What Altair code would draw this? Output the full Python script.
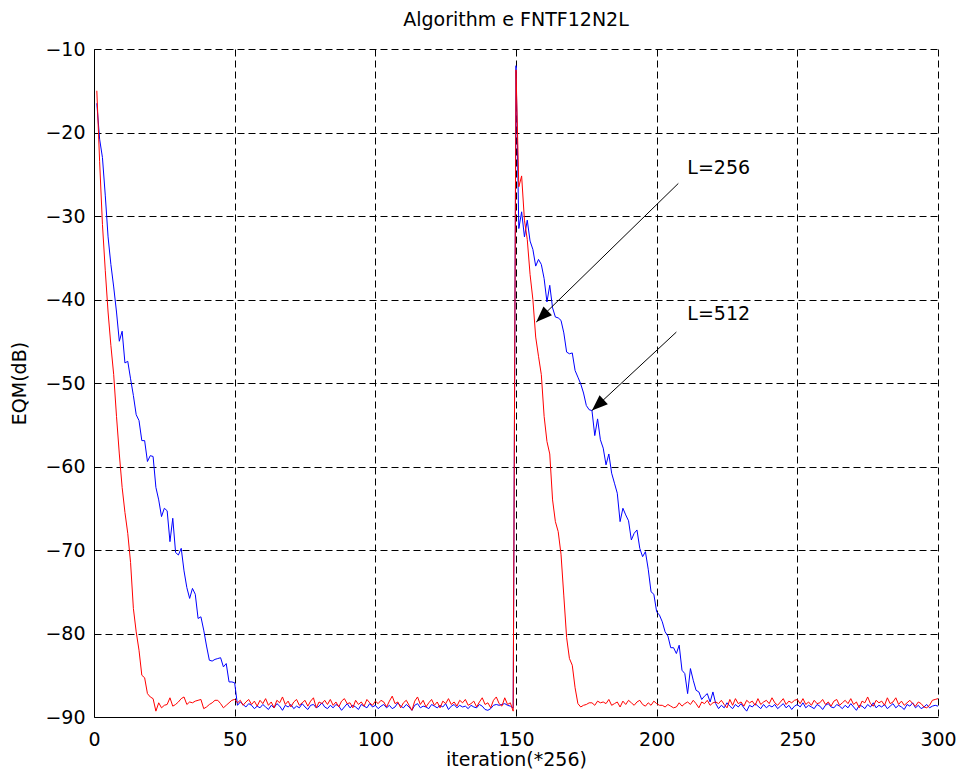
import altair as alt
import pandas as pd

# ---------------- data ----------------
iterations = list(range(1, 301))

# red curve : L=256
red_descent_1 = [-15.0, -23.5, -31.0, -36.5, -41.5, -45.5, -49.0, -54.0, -58.5, -62.5,
                 -65.5, -68.0, -71.5, -77.0, -79.8, -82.0, -85.0, -85.3, -87.2, -87.6,
                 -87.8, -89.3]
red_floor_1 = [-88.3, -88.9, -88.6, -88.5, -87.7, -88.7, -88.5, -88.2, -87.8, -87.6,
               -88.5, -88.2, -88.3, -88.1, -88.0, -87.9, -89.0, -88.8, -88.5, -88.3,
               -88.0, -88.0, -88.4, -88.9, -88.6, -88.3, -88.0, -87.9, -88.3, -88.0,
               -88.6, -88.2, -87.9, -88.5, -88.1, -88.7, -88.0, -88.4, -87.8, -88.6,
               -88.2, -88.9, -88.0, -88.3, -87.6, -88.5, -88.1, -88.8, -88.2, -87.9,
               -88.6, -88.3, -88.0, -88.7, -88.1, -87.7, -88.9, -88.2, -88.4, -88.0,
               -88.5, -87.9, -88.6, -88.2, -88.8, -88.1, -87.8, -88.4, -88.3, -88.9,
               -88.0, -88.5, -88.2, -88.7, -87.9, -88.3, -88.6, -88.1, -88.4, -88.0,
               -88.2, -88.8, -88.1, -87.5, -88.4, -88.2, -88.9, -88.3, -88.0, -88.6,
               -89.2, -88.1, -87.6, -88.5, -88.0, -88.8, -88.3, -87.9, -88.6, -88.2,
               -88.9, -88.1, -88.4, -87.8, -88.5, -88.2, -88.7, -88.0, -88.3, -87.9,
               -88.6, -88.4, -88.1, -88.8, -88.2, -87.7, -88.5, -88.3, -88.9, -88.0,
               -87.6, -88.4, -88.7, -87.7, -88.5, -88.3]
red_spike = [-89.3, -12.5]
red_descent_2 = [-26.5, -25.2, -30.5, -32.8, -37.0, -40.0, -44.5, -46.8, -49.0, -54.0,
                 -57.0, -58.5, -64.0, -66.6, -67.8, -70.5, -75.5, -80.5, -83.0, -83.8,
                 -86.5, -88.4, -88.8]
red_floor_2 = [-88.6, -88.5, -88.3, -88.3, -88.6, -88.1, -88.3, -88.2, -88.4, -87.9,
               -88.6, -88.4, -88.2, -88.8, -88.1, -88.5, -88.0, -88.3, -88.6, -88.2,
               -88.0, -88.5, -88.7, -88.3, -88.6, -88.1, -88.4, -88.6, -88.6, -88.8,
               -88.5, -88.7, -88.9, -88.8, -88.3, -88.7, -88.4, -88.2, -88.5, -88.0,
               -88.4, -88.9, -88.2, -88.4, -88.0, -88.6, -88.3, -88.2, -88.4, -88.0,
               -88.5, -88.9, -87.9, -88.6, -87.8, -88.4, -88.2, -88.7, -88.0, -88.3,
               -88.1, -88.6, -87.8, -88.5, -88.2, -88.0, -88.4, -87.7, -88.3, -88.6,
               -88.2, -87.8, -88.5, -88.1, -88.3, -88.0, -87.9, -88.4, -87.8, -88.5,
               -88.2, -88.6, -88.0, -88.4, -88.3, -87.9, -88.5, -88.2, -88.7, -88.1,
               -87.9, -88.6, -88.3, -88.0, -88.4, -87.8, -88.5, -88.2, -88.9, -88.1,
               -88.3, -87.6, -88.4, -88.7, -88.0, -88.3, -88.1, -88.6, -87.7, -88.4,
               -88.2, -87.7, -88.5, -88.1, -88.6, -88.3, -88.0, -88.4, -88.7, -88.2,
               -88.4, -88.8, -88.9, -88.6, -88.0, -87.9, -87.8]

# blue curve : L=512
blue_descent_1 = [-16.5, -20.8, -23.0, -27.5, -32.5, -35.8, -38.5, -41.5, -45.0, -43.8,
                  -47.6, -47.4, -49.5, -51.5, -53.8, -54.5, -56.9, -56.9, -59.4, -58.7,
                  -58.8, -62.5, -64.0, -66.0, -65.0, -65.3, -69.0, -66.2, -70.3, -70.6,
                  -69.8, -72.5, -74.5, -75.8, -74.6, -75.3, -78.2, -78.0, -79.6, -81.5,
                  -83.2, -83.3, -83.1, -83.0, -82.9, -84.0, -83.6, -85.8, -85.8, -85.9,
                  -88.6]
blue_floor_1 = [-88.2, -88.5, -88.8, -88.4, -88.6, -89.0, -88.7, -88.9, -88.5, -88.8,
                -89.1, -88.6, -88.9, -88.4, -88.7, -89.2, -88.6, -88.8, -88.5, -89.0,
                -88.7, -88.9, -88.4, -88.8, -89.1, -88.6, -88.5, -88.9, -88.7, -88.3,
                -88.8, -89.0, -88.6, -88.9, -88.5, -88.7, -89.2, -88.8, -88.4, -88.9,
                -88.6, -88.8, -89.1, -88.5, -88.7, -88.9, -88.4, -88.8, -88.6, -89.0,
                -88.7, -88.5, -88.9, -88.6, -89.0, -88.8, -88.3, -88.7, -88.9, -88.5,
                -88.8, -89.2, -88.6, -88.4, -88.9, -88.7, -88.8, -89.0, -88.5, -88.7,
                -88.9, -88.6, -88.8, -88.4, -89.1, -88.7, -88.5, -88.9, -88.6, -88.8,
                -88.7, -89.0, -88.6, -88.8, -88.9, -88.5, -88.7, -89.1, -89.2, -89.0,
                -88.6, -88.5, -88.6, -88.5, -88.4, -88.6, -88.7]
blue_spike = [-88.9, -12.0]
blue_descent_2 = [-31.5, -29.5, -32.5, -30.5, -33.0, -34.0, -36.0, -35.2, -35.8, -37.5,
                  -40.3, -38.3, -41.0, -42.1, -42.2, -42.5, -44.0, -46.3, -46.5, -46.4,
                  -48.5, -49.3, -50.1, -51.2, -52.7, -53.2, -53.3, -56.3, -54.3, -56.8,
                  -57.8, -59.8, -58.5, -60.8, -62.0, -63.2, -66.6, -65.0, -65.8, -66.5,
                  -68.8, -68.0, -67.6, -69.8, -70.8, -70.2, -72.3, -75.0, -75.3, -77.4,
                  -77.8, -78.6, -79.8, -80.3, -81.7, -81.7, -82.4, -81.4, -84.4, -84.8,
                  -87.2, -84.2, -85.6, -86.8, -87.0, -87.9, -87.5, -87.2, -88.2, -87.0,
                  -88.4, -89.0]
blue_floor_2 = [-88.6, -88.9, -88.3, -88.7, -89.0, -88.5, -88.8, -88.4, -88.9, -89.3,
                -88.6, -88.8, -88.4, -88.7, -89.0, -88.5, -88.9, -88.6, -88.8, -88.5,
                -89.0, -88.7, -88.4, -88.9, -88.6, -89.1, -88.7, -88.5, -88.8, -88.3,
                -88.9, -88.6, -88.8, -89.0, -88.5, -88.7, -89.1, -88.6, -88.4, -88.8,
                -88.9, -88.5, -88.7, -89.0, -88.6, -88.9, -88.4, -88.8, -89.2, -88.6,
                -88.7, -89.0, -88.5, -88.8, -88.3, -88.9, -88.6, -88.8, -88.5, -89.0,
                -88.7, -88.4, -88.9, -88.6, -88.8, -89.1, -88.5, -88.7, -88.3, -88.9,
                -88.6, -89.0, -88.8, -88.5, -88.9, -88.7, -88.6, -88.7]

red_values = red_descent_1 + red_floor_1 + red_spike + red_descent_2 + red_floor_2
blue_values = blue_descent_1 + blue_floor_1 + blue_spike + blue_descent_2 + blue_floor_2
assert len(red_values) == 300 and len(blue_values) == 300

x_ticks = [0, 50, 100, 150, 200, 250, 300]
y_ticks = [-90, -80, -70, -60, -50, -40, -30, -20, -10]

# annotations (data coordinates)
ann_labels = ["L=256", "L=512"]
ann_text_x = [210.9, 210.9]
ann_text_y = [-24.2, -41.7]
arrow_x_start = [207.7, 207.0]
arrow_y_start = [-26.1, -43.9]
arrow_x_tip = [157.2, 177.0]
arrow_y_tip = [-42.7, -53.3]
arrow_angle = [225.7, 227.3]

FONT = "DejaVu Sans"

df_red = pd.DataFrame({"it": iterations, "eqm": red_values})
df_blue = pd.DataFrame({"it": iterations, "eqm": blue_values})
df_ann = pd.DataFrame({"label": ann_labels, "tx": ann_text_x, "ty": ann_text_y,
                       "x0": arrow_x_start, "y0": arrow_y_start,
                       "x1": arrow_x_tip, "y1": arrow_y_tip, "ang": arrow_angle})

xscale = alt.Scale(domain=[0, 300], nice=False, zero=False)
yscale = alt.Scale(domain=[-90, -10], nice=False, zero=False)

xaxis = alt.Axis(values=x_ticks, title="iteration(*256)", grid=True, ticks=False,
                 labelFlush=False, labelOverlap=False, labelPadding=13,
                 titlePadding=1)
yaxis = alt.Axis(values=y_ticks, title="EQM(dB)", grid=True, ticks=False,
                 labelFlush=False, labelOverlap=False, labelPadding=9,
                 titlePadding=15)

X = alt.X("it:Q", scale=xscale, axis=xaxis)
Y = alt.Y("eqm:Q", scale=yscale, axis=yaxis)

blue_line = alt.Chart(df_blue).mark_line(color="#0000ff", strokeWidth=1).encode(x=X, y=Y)
red_line = alt.Chart(df_red).mark_line(color="#ff0000", strokeWidth=1).encode(
    x=alt.X("it:Q", scale=xscale), y=alt.Y("eqm:Q", scale=yscale))

arrows = alt.Chart(df_ann).mark_rule(color="black", strokeWidth=1).encode(
    x=alt.X("x0:Q", scale=xscale), y=alt.Y("y0:Q", scale=yscale),
    x2="x1:Q", y2="y1:Q")

heads = alt.Chart(df_ann).mark_point(
    shape="M0,0L-0.38,1L0.38,1Z", filled=True, size=1024, color="black",
    opacity=1, strokeWidth=0).encode(
    x=alt.X("x1:Q", scale=xscale), y=alt.Y("y1:Q", scale=yscale),
    angle=alt.Angle("ang:Q", scale=None))

texts = alt.Chart(df_ann).mark_text(
    align="left", baseline="middle", fontSize=19, font=FONT, color="black").encode(
    x=alt.X("tx:Q", scale=xscale), y=alt.Y("ty:Q", scale=yscale), text="label:N")

chart = alt.layer(blue_line, red_line, arrows, heads, texts).properties(
    width=844, height=668,
    autosize=alt.AutoSizeParams(type="none"),
    padding={"left": 86, "top": 41, "right": 18, "bottom": 55},
    title=alt.TitleParams("Algorithm e FNTF12N2L", fontSize=19, font=FONT,
                          fontWeight="normal", color="black", offset=10),
).configure_view(stroke=None).configure_axis(
    gridColor="black", gridDash=[7, 4], gridOpacity=1, gridWidth=1,
    domainColor="black", domainWidth=1,
    labelFont=FONT, labelFontSize=19, labelColor="black",
    titleFont=FONT, titleFontSize=19, titleFontWeight="normal", titleColor="black",
)

chart.save("out.html", embed_options={"renderer": "svg", "actions": False})
